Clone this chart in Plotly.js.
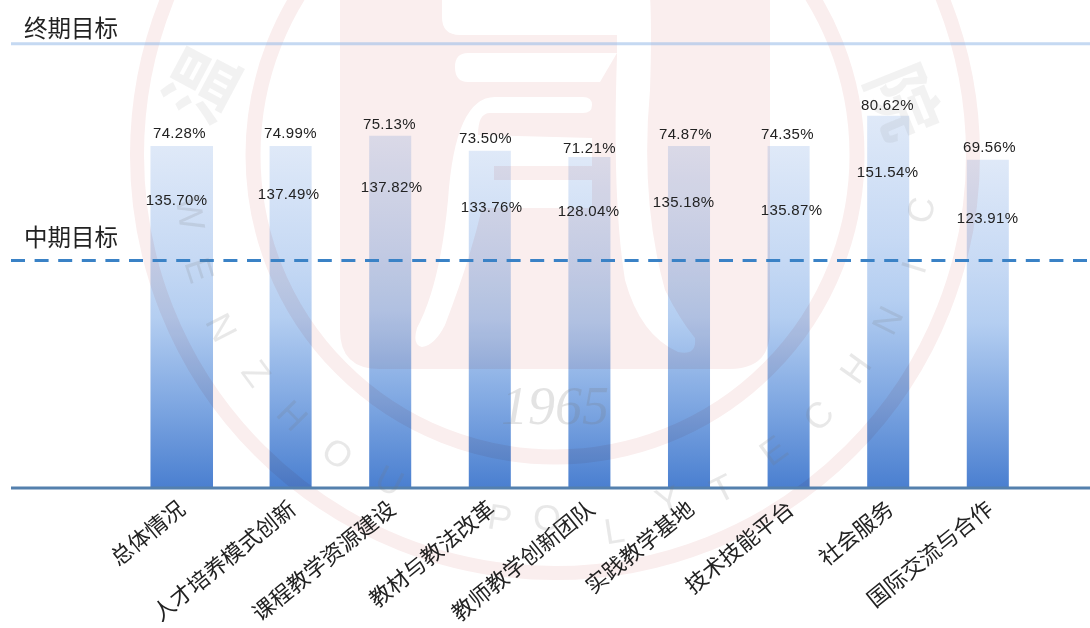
<!DOCTYPE html>
<html>
<head>
<meta charset="utf-8">
<script src="https://cdn.plot.ly/plotly-3.0.1.min.js"></script>
<style>
html,body{margin:0;padding:0;background:#fff}
#chart{width:1090px;height:628px}
.bars .point path{mix-blend-mode:multiply}
</style>
</head>
<body>
<div id="chart"></div>
<script>
// ---- data ----
const categories = ['总体情况','人才培养模式创新','课程教学资源建设','教材与教法改革','教师教学创新团队','实践教学基地','技术技能平台','社会服务','国际交流与合作'];
const finalRate = [74.28,74.99,75.13,73.50,71.21,74.87,74.35,80.62,69.56];
const midRate = [135.70,137.49,137.82,133.76,128.04,135.18,135.87,151.54,123.91];
const barLevel = [77.0,77.0,79.3,75.9,74.5,77.0,77.0,83.8,73.9];   // bar height, final target = 100
const finalTarget = 100;
const midTarget = 51.2;
const targetNames = ['终期目标','中期目标'];
const sealLetters = 'WENZHOUPOLYTECHNIC'.split('');
const sealYear = '1965';
const sealGlyphs = ['温','院'];

// ---- layout helpers and styling ----
const W = 1090, H = 628, baseY = 488, leftX = 11;
const px = x => x / W;
const py = y => 1 - y / baseY;
const barWidth = [0.628,0.422,0.422,0.422,0.422,0.422,0.422,0.422,0.422];
const barOffset = [-0.407,-0.211,-0.211,-0.211,-0.211,-0.211,-0.211,-0.211,-0.211];
const topShiftX = [-11.6,0,-1,-4,0,-4,-1.6,-1,2];
const topShiftY = [13,13,12,13,10,12,12,11,13];
const lowShiftX = [-14.8,-2,1,2,-1.4,-5.3,2.8,-1,0];
const lowShiftY = [-54,-48,-51,-56,-53,-56,-64,-56,-58];
const sealPos = [[191,213],[200,270],[222,327],[257,373],[293,415],[338,453],[390,480],[500,517],[547,517],[614,530],[668,500],[722,488],[773,450],[818,415],[855,368],[887,320],[913,267],[920,210]];
const glyphPos = [[197,82],[908,100]];
const glyphAngle = [-62,68];
const PINK = '#faeeee';
const cx = 555, cy = 155;

function ring(r, t){
  return {type:'circle',xref:'paper',yref:'paper',layer:'below',
    x0:px(cx-r),x1:px(cx+r),y0:py(cy+r),y1:py(cy-r),
    line:{color:PINK,width:t},fillcolor:'rgba(0,0,0,0)'};
}
function pathShape(d, color, width, fill){
  return {type:'path',xref:'paper',yref:'paper',layer:'below',path:d,
    line:{color:color,width:width},fillcolor:fill||'rgba(0,0,0,0)'};
}
const P = (x,y) => px(x).toFixed(5)+','+py(y).toFixed(5);
const rr = 'M'+P(340,-5)+' L'+P(340,330)+' Q'+P(340,369)+' '+P(380,369)+' L'+P(730,369)+' Q'+P(770,369)+' '+P(770,330)+' L'+P(770,-5)+' Z';
const white = '#ffffff';
const shapes = [
  ring(418,14), ring(302,15),
  pathShape(rr,'rgba(0,0,0,0)',0,PINK),
  // white strokes of the seal glyph
  pathShape('M'+P(442,0)+' Q'+P(442,0)+' '+P(442,17)+' Q'+P(442,35)+' '+P(460,35)+' L'+P(617,35)+' L'+P(617,0)+' Z',white,0,white),
  pathShape('M'+P(460,-5)+' L'+P(650,-5)+' Q'+P(652,30)+' '+P(650,90)+' Q'+P(640,200)+' '+P(665,290)+' Q'+P(680,320)+' '+P(695,338)+' Q'+P(697,356)+' '+P(678,352)+' Q'+P(640,335)+' '+P(625,280)+' Q'+P(612,200)+' '+P(617,55)+' L'+P(617,30)+' L'+P(460,30)+' Z',white,0,white),
  pathShape('M'+P(468,53)+' L'+P(617,53)+' L'+P(600,82)+' L'+P(468,82)+' Q'+P(455,82)+' '+P(455,67)+' Q'+P(455,53)+' '+P(468,53)+' Z',white,0,white),
  pathShape('M'+P(495,97)+' L'+P(583,97)+' Q'+P(592,97)+' '+P(592,105)+' Q'+P(592,113)+' '+P(583,113)+' L'+P(490,113)+' Q'+P(478,113)+' '+P(478,135)+' L'+P(592,138)+' L'+P(592,166)+' L'+P(494,166)+' L'+P(494,180)+' L'+P(592,180)+' L'+P(592,208)+' L'+P(482,208)+' Q'+P(470,260)+' '+P(445,325)+' Q'+P(435,345)+' '+P(422,347)+' Q'+P(412,345)+' '+P(417,328)+' Q'+P(440,285)+' '+P(448,200)+' Q'+P(455,97)+' '+P(495,97)+' Z',white,0,white),
  // target lines and baseline
  {type:'line',xref:'paper',yref:'y',x0:px(leftX),x1:1,y0:finalTarget,y1:finalTarget,layer:'above',line:{color:'rgba(150,185,232,0.55)',width:3}},
  {type:'line',xref:'paper',yref:'y',x0:px(leftX),x1:1,y0:midTarget,y1:midTarget,layer:'above',line:{color:'#3a82c6',width:3,dash:'14px,9.6px'}},
  {type:'line',xref:'paper',yref:'paper',x0:px(leftX),x1:1,y0:0,y1:0,layer:'above',line:{color:'#5480ad',width:3}}
];

const annotations = [];
const NUMFONT = {family:'"Liberation Sans",Arial,sans-serif',size:15,color:'#222222'};
categories.forEach((c,i)=>{
  annotations.push({x:i,y:barLevel[i],xref:'x',yref:'y',text:finalRate[i].toFixed(2)+'%',showarrow:false,
    xshift:topShiftX[i],yshift:topShiftY[i],yanchor:'middle',xanchor:'center',font:NUMFONT});
  annotations.push({x:i,y:barLevel[i],xref:'x',yref:'y',text:midRate[i].toFixed(2)+'%',showarrow:false,
    xshift:lowShiftX[i],yshift:lowShiftY[i],yanchor:'middle',xanchor:'center',font:NUMFONT});
});
const NAMEFONT = {family:'"Noto Sans CJK SC",sans-serif',size:23.5,color:'#222222'};
annotations.push({xref:'paper',yref:'paper',x:px(21.5),y:py(27),xanchor:'left',yanchor:'middle',text:targetNames[0],showarrow:false,font:NAMEFONT});
annotations.push({xref:'paper',yref:'paper',x:px(21.5),y:py(236),xanchor:'left',yanchor:'middle',text:targetNames[1],showarrow:false,font:NAMEFONT});
// faint seal lettering
sealLetters.forEach((ch,i)=>{
  const p = sealPos[i];
  const ang = Math.atan2(cx-p[0], p[1]-cy)*180/Math.PI;
  annotations.push({xref:'paper',yref:'paper',x:px(p[0]),y:py(p[1]),text:ch,showarrow:false,textangle:ang,
    xanchor:'center',yanchor:'middle',opacity:0.16,
    font:{family:'"Liberation Sans",sans-serif',size:36,color:'#777777'}});
});
sealGlyphs.forEach((ch,i)=>{
  annotations.push({xref:'paper',yref:'paper',x:px(glyphPos[i][0]),y:py(glyphPos[i][1]),text:ch,showarrow:false,textangle:glyphAngle[i],
    xanchor:'center',yanchor:'middle',opacity:0.09,
    font:{family:'"Noto Sans CJK SC",sans-serif',size:72,weight:700,color:'#777777'}});
});
annotations.push({xref:'paper',yref:'paper',x:px(555),y:py(406),text:sealYear,showarrow:false,opacity:0.2,
  xanchor:'center',yanchor:'middle',
  font:{family:'"Liberation Serif",serif',size:54,style:'italic',color:'#777777'}});

const trace = {
  type:'bar', x:categories, y:barLevel, width:barWidth, offset:barOffset,
  marker:{color:'#b4cef1',line:{width:0}}, hoverinfo:'skip', cliponaxis:false
};
const layout = {
  width:W,height:H,margin:{l:0,r:0,t:0,b:H-baseY,pad:0},
  paper_bgcolor:'#ffffff',plot_bgcolor:'rgba(0,0,0,0)',showlegend:false,
  xaxis:{type:'category',range:[-191/99.6,(W-191)/99.6],showgrid:false,zeroline:false,showline:false,ticks:'',
    tickangle:-39,automargin:false,fixedrange:true,ticklabelstandoff:3,
    tickfont:{family:'"Noto Sans CJK SC",sans-serif',size:22,color:'#222222'}},
  yaxis:{range:[0,baseY/4.443],showgrid:false,zeroline:false,showline:false,showticklabels:false,ticks:'',fixedrange:true},
  shapes:shapes,annotations:annotations
};
Plotly.newPlot('chart',[trace],layout,{displayModeBar:false,staticPlot:true}).then(gd=>{
  const svg = gd.querySelector('.main-svg');
  const NS = 'http://www.w3.org/2000/svg';
  const defs = svg.querySelector('defs') || svg.insertBefore(document.createElementNS(NS,'defs'),svg.firstChild);
  const g = document.createElementNS(NS,'linearGradient');
  g.setAttribute('id','barGrad');g.setAttribute('x1','0');g.setAttribute('y1','0');g.setAttribute('x2','0');g.setAttribute('y2','1');
  [[0,'#dfe9f8'],[0.33,'#c6d9f4'],[0.5,'#b4cef1'],[0.75,'#80a8e2'],[1,'#4a7fd0']].forEach(s=>{
    const st=document.createElementNS(NS,'stop');st.setAttribute('offset',s[0]);st.setAttribute('stop-color',s[1]);g.appendChild(st);
  });
  defs.appendChild(g);
  gd.querySelectorAll('.bars .point path').forEach(p=>{p.style.fill='url(#barGrad)';});
  gd.querySelectorAll('.annotation text').forEach(t=>{ if(/%$/.test(t.textContent)) t.style.letterSpacing='.35px'; });
  // first category label sits under its wider bar, left of its slot
  const first = gd.querySelector('.xtick text');
  if(first){ first.setAttribute('transform','translate(-11,0) '+(first.getAttribute('transform')||'')); }
});
</script>
</body>
</html>
